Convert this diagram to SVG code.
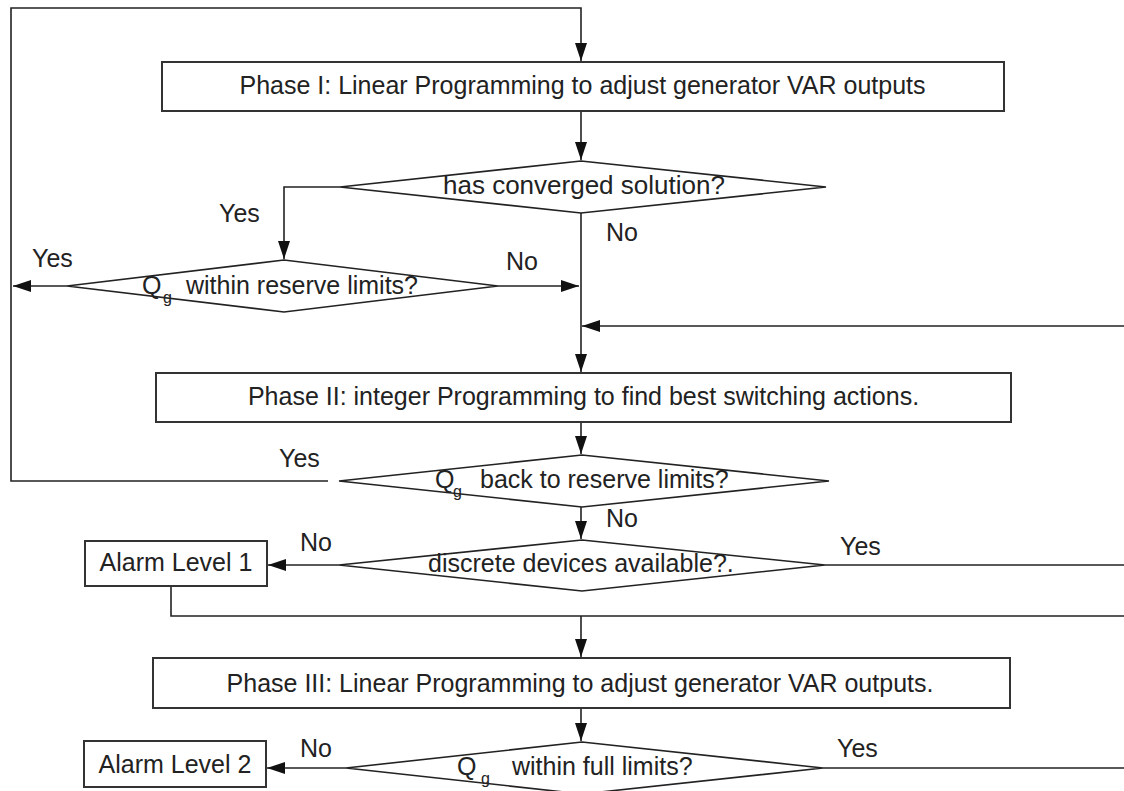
<svg xmlns="http://www.w3.org/2000/svg" width="1124" height="791" viewBox="0 0 1124 791">
<defs>
<style>
.t{font-family:"Liberation Sans",Arial,sans-serif;font-size:25px;fill:#222}
.s{font-family:"Liberation Sans",Arial,sans-serif;font-size:16px;fill:#222}
.box{fill:#fff;stroke:#333;stroke-width:2}
.dia{fill:#fff;stroke:#222;stroke-width:1.6}
.ln{fill:none;stroke:#222;stroke-width:1.6}
</style>
<marker id="ah" markerUnits="userSpaceOnUse" markerWidth="20" markerHeight="14" refX="18" refY="6" orient="auto">
<path d="M0,0 L18,6 L0,12 z" fill="#111"/>
</marker>
</defs>
<rect width="1124" height="791" fill="#fff"/>
<g id="connectors">
<path class="ln" d="M328,481 H11 V8 H581 V61" marker-end="url(#ah)"/>
<path class="ln" d="M581,111 V160" marker-end="url(#ah)"/>
<path class="ln" d="M340,187 H284 V259" marker-end="url(#ah)"/>
<path class="ln" d="M67,286 H13" marker-end="url(#ah)"/>
<path class="ln" d="M498,286 H579" marker-end="url(#ah)"/>
<path class="ln" d="M581,213 V372" marker-end="url(#ah)"/>
<path class="ln" d="M1124,326 H582" marker-end="url(#ah)"/>
<path class="ln" d="M581,422 V454" marker-end="url(#ah)"/>
<path class="ln" d="M581,507 V539" marker-end="url(#ah)"/>
<path class="ln" d="M339,565 H268" marker-end="url(#ah)"/>
<path class="ln" d="M825,565 H1124"/>
<path class="ln" d="M171,586 V616 H1124"/>
<path class="ln" d="M581,616 V657" marker-end="url(#ah)"/>
<path class="ln" d="M581,708 V741" marker-end="url(#ah)"/>
<path class="ln" d="M346,768 H267" marker-end="url(#ah)"/>
<path class="ln" d="M823,768 H1124"/>
</g>
<g id="phase1">
<rect class="box" x="162" y="62" width="842" height="49"/>
<text class="t" x="582.5" y="94" text-anchor="middle">Phase I: Linear Programming to adjust generator VAR outputs</text>
</g>
<g id="converged">
<polygon class="dia" points="340,187 581,161 826,187 581,213"/>
<text class="t" x="443" y="194" style="font-size:26px">has converged solution?</text>
</g>
<g id="reserve">
<polygon class="dia" points="67,286 284,260 498,286 284,312"/>
<text class="t" x="142" y="294">Q</text>
<text class="s" x="163" y="303">g</text>
<text class="t" x="186" y="294">within reserve limits?</text>
</g>
<g id="phase2">
<rect class="box" x="156" y="373" width="855" height="49"/>
<text class="t" x="583.5" y="405" text-anchor="middle">Phase II: integer Programming to find best switching actions.</text>
</g>
<g id="backreserve">
<polygon class="dia" points="339,481 582,455 829,481 582,507"/>
<text class="t" x="435" y="488">Q</text>
<text class="s" x="453" y="497">g</text>
<text class="t" x="480" y="488">back to reserve limits?</text>
</g>
<g id="discrete">
<polygon class="dia" points="339,565 582,540 825,565 582,591"/>
<text class="t" x="428" y="572">discrete devices available?.</text>
</g>
<g id="alarm1">
<rect class="box" x="85" y="541" width="182" height="45"/>
<text class="t" x="176" y="571" text-anchor="middle">Alarm Level 1</text>
</g>
<g id="phase3">
<rect class="box" x="153" y="658" width="857" height="50"/>
<text class="t" x="580" y="692" text-anchor="middle">Phase III: Linear Programming to adjust generator VAR outputs.</text>
</g>
<g id="full">
<polygon class="dia" points="346,768 582,742 823,768 582,794"/>
<text class="t" x="457" y="775">Q</text>
<text class="s" x="481" y="784">g</text>
<text class="t" x="512" y="775">within full limits?</text>
</g>
<g id="alarm2">
<rect class="box" x="84" y="741" width="182" height="46"/>
<text class="t" x="175" y="773" text-anchor="middle">Alarm Level 2</text>
</g>
<g id="labels">
<text class="t" x="219" y="222">Yes</text>
<text class="t" x="32" y="267">Yes</text>
<text class="t" x="506" y="270">No</text>
<text class="t" x="606" y="241">No</text>
<text class="t" x="279" y="467">Yes</text>
<text class="t" x="606" y="527">No</text>
<text class="t" x="300" y="551">No</text>
<text class="t" x="840" y="555">Yes</text>
<text class="t" x="300" y="757">No</text>
<text class="t" x="837" y="757">Yes</text>
</g>
</svg>
